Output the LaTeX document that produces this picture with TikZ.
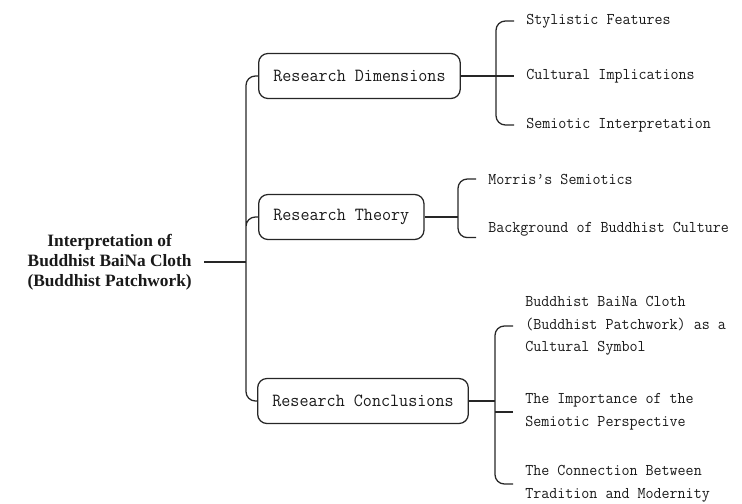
\documentclass[tikz,border=0pt]{standalone}
\usepackage{fontspec}
\setmonofont[FakeStretch=0.95]{Latin Modern Mono}
\newfontfamily\rootfont{Liberation Serif}
\tikzset{
  line/.style={draw=black!85, line width=0.95pt},
  topic/.style={line, rounded corners=7pt, anchor=west, minimum height=33.75pt, inner xsep=11pt,
    text=black!90, font=\ttfamily\fontsize{13.9}{16}\selectfont},
  leaf/.style={anchor=west, align=left, inner xsep=9pt, inner ysep=1pt,
    text=black!90, font=\ttfamily\fontsize{12.3}{16.9}\selectfont},
  root/.style={anchor=east, align=center, inner xsep=9pt,
    text=black!90, font=\rootfont\bfseries\fontsize{13}{15}\selectfont}
}
\begin{document}
\begin{tikzpicture}[x=0.75pt,y=-0.75pt]
  \useasboundingbox (0,0) rectangle (742,503);
  \node[root] (root) at (204,262) {Interpretation of\\Buddhist BaiNa Cloth\\(Buddhist Patchwork)};
  \node[topic] (dim) at (258,76) {Research Dimensions};
  \node[topic] (theory) at (258,217) {Research Theory};
  \node[topic] (conc) at (257,401) {Research Conclusions};
  \node[leaf] (sty) at (514,21) {Stylistic Features};
  \node[leaf] (cul) at (514,76) {Cultural Implications};
  \node[leaf] (sem) at (514,125) {Semiotic Interpretation};
  \node[leaf] (mor) at (476,179) {Morris’s Semiotics};
  \node[leaf] (bg) at (476,229) {Background of Buddhist Culture};
  \node[leaf] (sym) at (513,326) {Buddhist BaiNa Cloth\\(Buddhist Patchwork) as a\\Cultural Symbol};
  \node[leaf] (imp) at (513,412) {The Importance of the\\Semiotic Perspective};
  \node[leaf] (tra) at (513,484) {The Connection Between\\Tradition and Modernity};
  \coordinate (trunk) at (246,262);
  \coordinate (dimb) at (496,76);
  \coordinate (theb) at (458,217);
  \coordinate (concb) at (495,401);
  \path[line]
  (root.east) -- (trunk)
  (dim.east) -- (cul.west)
  (theory.east) -- (theb)
  (conc.east) -- (concb)
  (imp.west) -- (imp.west -| concb);
  \path[line, rounded corners=7pt]
  (dim.west) -| (trunk) |- (conc.west)
  (theory.west) -| (trunk)
  (sty.west) -| (dimb) |- (sem.west)
  (mor.west) -| (theb) |- (bg.south west)
  (sym.west) -| (concb) |- (tra.west);
\end{tikzpicture}
\end{document}
